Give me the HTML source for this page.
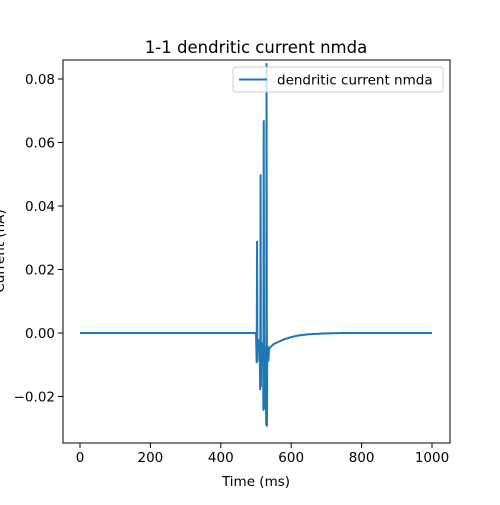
<!DOCTYPE html>
<html><head><meta charset="utf-8"><style>
body{margin:0;background:#fff;font-family:"Liberation Sans","DejaVu Sans",sans-serif;}
svg text{font-family:"DejaVu Sans","Liberation Sans",sans-serif;}
</style></head><body>
<svg id="c" width="500" height="500" viewBox="0 0 500 500" xmlns="http://www.w3.org/2000/svg"></svg>
<script>
const times=[0,495,500,502,503,504,505,507,510,512,513,514,515,517,520,521,522,523,524,525,527,529,530,531,532,533,534,535,537,538,540,545,550,560,570,580,600,620,650,700,750,800,1000];
const values=[0,0,0,-0.0095,0.029,-0.009,-0.002,-0.003,-0.002,-0.018,0.05,-0.017,-0.003,-0.004,-0.003,-0.0245,0.067,-0.024,-0.004,-0.005,-0.004,-0.029,0.085,-0.0295,-0.006,-0.004,-0.005,-0.009,-0.005,-0.005,-0.0045,-0.004,-0.0035,-0.003,-0.0025,-0.002,-0.0013,-0.0008,-0.0004,-0.0001,0,0,0];
const xTicks=[0,200,400,600,800,1000];
const yTicks=[-0.02,0,0.02,0.04,0.06,0.08];
const yLabels=["\u22120.02","0.00","0.02","0.04","0.06","0.08"];
const L=63,R=450,T=60,B=443;
const xs=t=>80+t*(432-80)/1000;
const ys=v=>333-v*(333-79)/0.08;
const svg=document.getElementById('c');
const NS="http://www.w3.org/2000/svg";
function mk(tag,attrs,parent){const e=document.createElementNS(NS,tag);for(const k in attrs)e.setAttribute(k,attrs[k]);(parent||svg).appendChild(e);return e;}
const clip=mk('clipPath',{id:'cl'});mk('rect',{x:L,y:T,width:R-L,height:B-T},clip);
let d=times.map((t,i)=>(i?'L':'M')+xs(t).toFixed(2)+','+ys(values[i]).toFixed(2)).join('');
const line=mk('path',{d:d,fill:'none',stroke:'#1f77b4','stroke-width':2,'clip-path':'url(#cl)'});


const frame=mk('rect',{x:L,y:T,width:R-L,height:B-T,fill:'none',stroke:'#000','stroke-width':1});


xTicks.forEach(t=>{const x=xs(t);mk('line',{x1:x,x2:x,y1:B,y2:B+5,stroke:'#000','stroke-width':1});
const tx=mk('text',{x:x,y:B+19,'font-size':13.5,'text-anchor':'middle'});tx.textContent=t;

});
yTicks.forEach((v,i)=>{const y=ys(v);mk('line',{x1:L-5,x2:L,y1:y,y2:y,stroke:'#000','stroke-width':1});
const tx=mk('text',{x:L-8,y:y+5,'font-size':13.5,'text-anchor':'end'});tx.textContent=yLabels[i];

});
const xt=mk('text',{x:256,y:486,'font-size':13.5,'text-anchor':'middle'});xt.textContent='Time (ms)';


const yt=mk('text',{x:0,y:0,'font-size':13.5,'text-anchor':'middle',transform:'translate(4,251) rotate(-90)'});yt.textContent='Current (nA)';


const ti=mk('text',{x:256,y:53,'font-size':16.5,'text-anchor':'middle'});ti.textContent='1-1 dendritic current nmda';


const lg=mk('g',{});


mk('rect',{x:233,y:67,width:210,height:25,rx:3,fill:'#fff','fill-opacity':0.8,stroke:'#ccc','stroke-width':1},lg);
mk('line',{x1:239,x2:267,y1:79.5,y2:79.5,stroke:'#1f77b4','stroke-width':2},lg);
const lt=mk('text',{x:277,y:84.5,'font-size':13.5},lg);lt.textContent='dendritic current nmda';


</script>
</body></html>
